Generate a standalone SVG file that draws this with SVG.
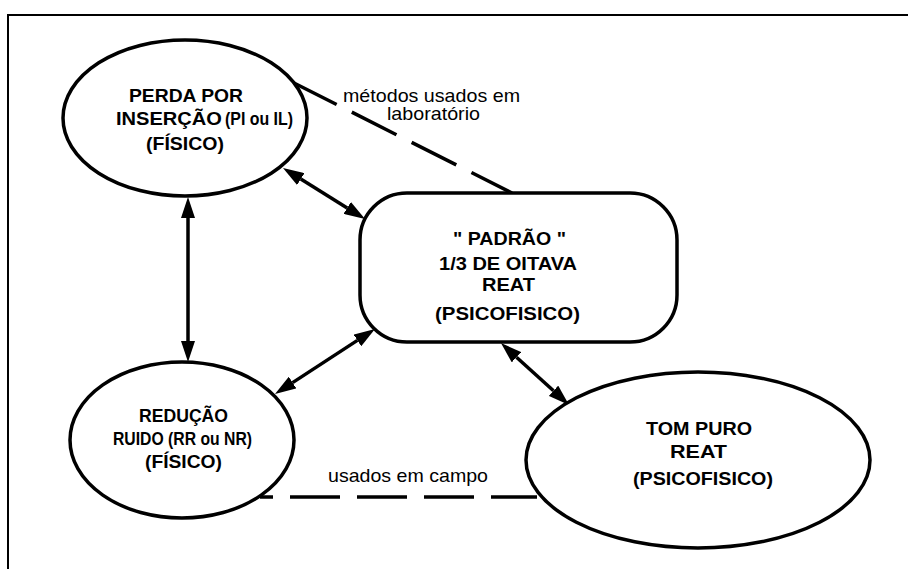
<svg xmlns="http://www.w3.org/2000/svg" width="908" height="569" viewBox="0 0 908 569">
<style>
.node{fill:#fff;stroke:#000;stroke-width:3.5}
.b{font-family:"Liberation Sans",Arial,sans-serif;font-weight:bold;font-size:19px;fill:#000}
.r{font-family:"Liberation Sans",Arial,sans-serif;font-size:19px;fill:#000}
.arr{stroke:#000;stroke-width:3.5;fill:none;marker-start:url(#ah);marker-end:url(#ah)}
.dash{stroke:#000;stroke-width:3.5;fill:none;stroke-dasharray:50 17}
</style>
<defs>
<marker id="ah" markerUnits="userSpaceOnUse" viewBox="0 0 21 14" refX="0" refY="7" markerWidth="21" markerHeight="14" orient="auto-start-reverse">
<path d="M0,0 L21,7 L0,14 z" fill="#000"/>
</marker>
</defs>
<rect width="908" height="569" fill="#fff"/>
<path d="M8,569 V15 H908" fill="none" stroke="#000" stroke-width="2"/>
<g id="connectors">
<path class="dash" d="M292,82 L512,193"/>
<path class="dash" style="stroke-dashoffset:37" d="M260,497 H537"/>
<path class="arr" d="M188,218 V341"/>
<path class="arr" d="M300.8,179.1 L347.2,207.9"/>
<path class="arr" d="M357.4,340.4 L292.6,382.6"/>
<path class="arr" d="M516.5,357.2 L553.5,390.8"/>
</g>
<g id="label-lab">
<text class="r" x="343" y="102" textLength="177" lengthAdjust="spacingAndGlyphs">métodos usados em</text>
<text class="r" x="387" y="120" textLength="93" lengthAdjust="spacingAndGlyphs">laboratório</text>
</g>
<g id="label-campo">
<text class="r" x="328" y="482" textLength="160" lengthAdjust="spacingAndGlyphs">usados em campo</text>
</g>
<g id="perda">
<ellipse class="node" cx="185" cy="118" rx="122" ry="78"/>
<text class="b" x="129" y="102" textLength="114" lengthAdjust="spacingAndGlyphs">PERDA POR</text>
<text class="b" x="116" y="125" textLength="106" lengthAdjust="spacingAndGlyphs">INSERÇÃO</text>
<text class="b" x="225" y="125" textLength="68" lengthAdjust="spacingAndGlyphs">(PI ou IL)</text>
<text class="b" x="146" y="150" textLength="78" lengthAdjust="spacingAndGlyphs">(FÍSICO)</text>
</g>
<g id="padrao">
<rect class="node" x="360" y="193" width="317" height="149" rx="47" ry="47"/>
<text class="b" x="453" y="245" textLength="113" lengthAdjust="spacingAndGlyphs">" PADRÃO "</text>
<text class="b" x="439" y="270" textLength="138" lengthAdjust="spacingAndGlyphs">1/3 DE OITAVA</text>
<text class="b" x="482" y="291" textLength="53" lengthAdjust="spacingAndGlyphs">REAT</text>
<text class="b" x="435" y="320" textLength="145" lengthAdjust="spacingAndGlyphs">(PSICOFISICO)</text>
</g>
<g id="reducao">
<ellipse class="node" cx="182" cy="440" rx="112" ry="78"/>
<text class="b" x="139" y="422" textLength="89" lengthAdjust="spacingAndGlyphs">REDUÇÃO</text>
<text class="b" x="113" y="445" textLength="139" lengthAdjust="spacingAndGlyphs">RUIDO (RR ou NR)</text>
<text class="b" x="145" y="468" textLength="77" lengthAdjust="spacingAndGlyphs">(FÍSICO)</text>
</g>
<g id="tompuro">
<ellipse class="node" cx="698" cy="460" rx="172" ry="88"/>
<text class="b" x="646" y="435" textLength="106" lengthAdjust="spacingAndGlyphs">TOM PURO</text>
<text class="b" x="670" y="458" textLength="57" lengthAdjust="spacingAndGlyphs">REAT</text>
<text class="b" x="633" y="485" textLength="140" lengthAdjust="spacingAndGlyphs">(PSICOFISICO)</text>
</g>
</svg>
